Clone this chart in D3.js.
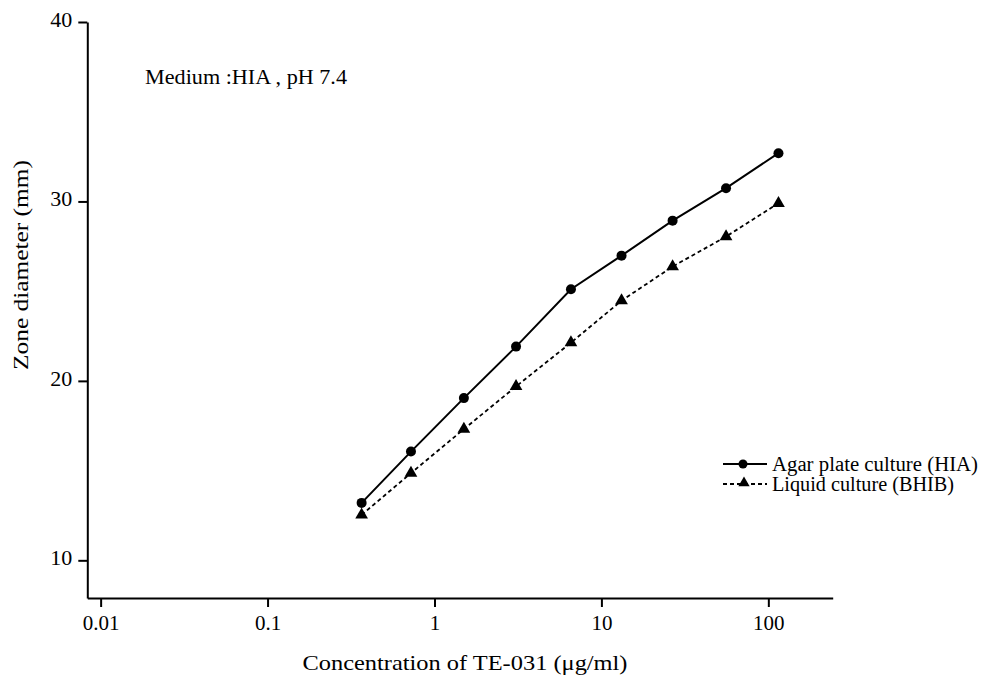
<!DOCTYPE html>
<html>
<head>
<meta charset="utf-8">
<script src="https://cdn.jsdelivr.net/npm/d3@7"></script>
<style>
  html, body { margin: 0; padding: 0; background: #fff; }
  svg { display: block; }
  text { font-family: "Liberation Serif", "DejaVu Serif", serif; fill: #000; }
</style>
</head>
<body>
<svg id="chart" width="998" height="675"></svg>
<script>
// ---- data ----
const concentrations = [0.366, 0.723, 1.50, 3.08, 6.57, 13.2, 26.7, 55.8, 115];
const agarZone   = [13.2, 16.06, 19.04, 21.91, 25.11, 26.98, 28.93, 30.74, 32.69];
const liquidZone = [12.53, 14.86, 17.31, 19.69, 22.13, 24.47, 26.37, 28.04, 29.90];
const xTickValues = [0.01, 0.1, 1, 10, 100];
const xTickLabels = ["0.01", "0.1", "1", "10", "100"];
const yTickValues = [10, 20, 30, 40];
const seriesNames = ["Agar plate culture (HIA)", "Liquid culture (BHIB)"];
const annotation = "Medium :HIA , pH 7.4";
const xTitle = "Concentration of TE-031 (\u03bcg/ml)";
const yTitle = "Zone diameter  (mm)";

const svg = d3.select("#chart");

const x = d3.scaleLog().domain([0.00832, 243]).range([87.3, 832.7]);
const y = d3.scaleLinear().domain([7.9, 40]).range([598, 22]);

// axes
const yAxis = d3.axisLeft(y).tickValues(yTickValues).tickSize(9).tickSizeOuter(0).tickPadding(6).tickFormat(d3.format("d"));
const gy = svg.append("g").attr("transform", `translate(${x.range()[0]},0)`).call(yAxis);
gy.select(".domain").attr("stroke", "#000").attr("stroke-width", 2);
gy.selectAll(".tick line").attr("stroke", "#000").attr("stroke-width", 2);
gy.selectAll(".tick text").style("font-size", "22px").style("font-family", "Liberation Serif").attr("dy", "0.2em");

const xAxis = d3.axisBottom(x).tickValues(xTickValues).tickSize(9).tickSizeOuter(0).tickPadding(8)
  .tickFormat((d, i) => xTickLabels[i]);
const gx = svg.append("g").attr("transform", `translate(0,${y.range()[0]})`).call(xAxis);
gx.select(".domain").attr("stroke", "#000").attr("stroke-width", 2);
gx.selectAll(".tick line").attr("stroke", "#000").attr("stroke-width", 2);
gx.selectAll(".tick text").style("font-size", "21px").style("font-family", "Liberation Serif");

// titles
svg.append("text").attr("x", 465).attr("y", 670).attr("text-anchor", "middle")
  .attr("textLength", 325).attr("lengthAdjust", "spacingAndGlyphs")
  .style("font-size", "21px").text(xTitle);
svg.append("text").attr("transform", "translate(28,265) rotate(-90)").attr("text-anchor", "middle")
  .attr("textLength", 210).attr("lengthAdjust", "spacingAndGlyphs")
  .style("font-size", "21px").text(yTitle);

svg.append("text").attr("x", 145).attr("y", 84)
  .attr("textLength", 202).attr("lengthAdjust", "spacingAndGlyphs")
  .style("font-size", "21px").text(annotation);

// lines
const agarData = concentrations.map((c, i) => [c, agarZone[i]]);
const liquidData = concentrations.map((c, i) => [c, liquidZone[i]]);
const line = d3.line().x(d => x(d[0])).y(d => y(d[1]));

svg.append("path").datum(liquidData).attr("d", line).attr("fill", "none")
  .attr("stroke", "#000").attr("stroke-width", 1.8).attr("stroke-dasharray", "4,3");
svg.append("path").datum(agarData).attr("d", line).attr("fill", "none")
  .attr("stroke", "#000").attr("stroke-width", 2);

const tri = d3.symbol().type(d3.symbolTriangle).size(70);
svg.selectAll(".tri").data(liquidData).enter().append("path")
  .attr("d", tri).attr("transform", d => `translate(${x(d[0])},${y(d[1])})`).attr("fill", "#000");
svg.selectAll(".dot").data(agarData).enter().append("circle")
  .attr("cx", d => x(d[0])).attr("cy", d => y(d[1])).attr("r", 5).attr("fill", "#000");

// legend
const lg = svg.append("g");
const ly = [464, 484];
lg.append("line").attr("x1", 723).attr("x2", 767).attr("y1", ly[0]).attr("y2", ly[0]).attr("stroke", "#000").attr("stroke-width", 2);
lg.append("circle").attr("cx", 743).attr("cy", ly[0]).attr("r", 4.5).attr("fill", "#000");
lg.append("line").attr("x1", 723).attr("x2", 767).attr("y1", ly[1]).attr("y2", ly[1]).attr("stroke", "#000").attr("stroke-width", 1.8).attr("stroke-dasharray", "4,3");
lg.append("path").attr("d", d3.symbol().type(d3.symbolTriangle).size(55)).attr("transform", `translate(744,${ly[1] - 1})`).attr("fill", "#000");
lg.append("text").attr("x", 772).attr("y", ly[0] + 7).attr("textLength", 206).attr("lengthAdjust", "spacingAndGlyphs")
  .style("font-size", "20px").text(seriesNames[0]);
lg.append("text").attr("x", 772).attr("y", ly[1] + 7).attr("textLength", 182).attr("lengthAdjust", "spacingAndGlyphs")
  .style("font-size", "20px").text(seriesNames[1]);
</script>
</body>
</html>
